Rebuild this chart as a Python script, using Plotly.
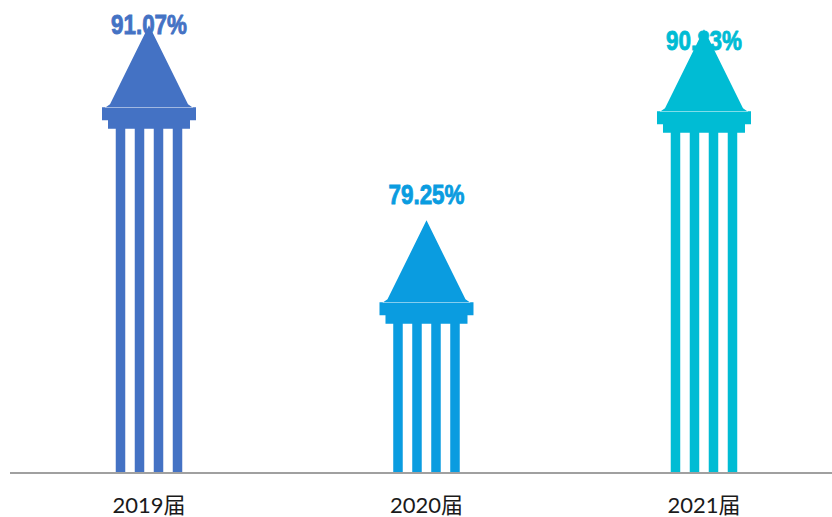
import plotly.graph_objects as go

# ---- data ----
categories = ["2019届", "2020届", "2021届"]
values = [91.07, 79.25, 90.83]
value_labels = ["91.07%", "79.25%", "90.83%"]

# ---- style ----
colors = ["#4472C4", "#0A9CE0", "#00BCD4"]
label_shift_px = [-2, 23, -14]      # label centre offset above the arrow tip (px)
label_on_top = [True, True, False]

W, H = 832, 517
ML, MR, MT, MB = 10, 0, 0, 45
X_RANGE = [-0.5009, 2.4613]
Y_RANGE = [64.0, 92.606]

plot_w = W - ML - MR
plot_h = H - MT - MB
px_x = (X_RANGE[1] - X_RANGE[0]) / plot_w   # data units per pixel
px_y = (Y_RANGE[1] - Y_RANGE[0]) / plot_h

# arrow geometry in pixels (relative to tip / centre)
TRI_H, TRI_HW, SHOULDER_HW, SHOULDER_H = 82, 39, 44, 3
CAP_H, CAP_HW = 13, 47
BAND_H, BAND_HW = 8, 41
STRIPE_W = 9.5
STRIPE_C = [-28.5, -9.5, 9.5, 28.5]


def arrow_path(cx, v):
    xs, ys = [], []

    def rect(x0, x1, y0, y1):
        xs.extend([x0, x1, x1, x0, x0, None])
        ys.extend([y0, y0, y1, y1, y0, None])

    tip = v
    cap_top = tip - TRI_H * px_y
    cap_bot = cap_top - CAP_H * px_y
    band_bot = cap_bot - BAND_H * px_y
    # triangle with slightly flared shoulders
    xs.extend([cx - SHOULDER_HW * px_x, cx - TRI_HW * px_x, cx,
               cx + TRI_HW * px_x, cx + SHOULDER_HW * px_x, cx - SHOULDER_HW * px_x, None])
    ys.extend([cap_top - 0.5 * px_y, cap_top + SHOULDER_H * px_y, tip,
               cap_top + SHOULDER_H * px_y, cap_top - 0.5 * px_y, cap_top - 0.5 * px_y, None])
    rect(cx - CAP_HW * px_x, cx + CAP_HW * px_x, cap_bot, cap_top)
    rect(cx - BAND_HW * px_x, cx + BAND_HW * px_x, band_bot - 0.5 * px_y, cap_bot + 0.5 * px_y)
    for c in STRIPE_C:
        rect(cx + (c - STRIPE_W / 2) * px_x, cx + (c + STRIPE_W / 2) * px_x,
             Y_RANGE[0], band_bot)
    return xs, ys


fig = go.Figure()


def add_label(i):
    fig.add_trace(go.Scatter(
        x=[i], y=[values[i] + label_shift_px[i] * px_y],
        mode="text", text=[value_labels[i]], textposition="middle center",
        textfont=dict(family="Liberation Sans, Arial, sans-serif",
                      size=28, color=colors[i], weight="bold"),
        hoverinfo="skip", showlegend=False, cliponaxis=False))


for i, (cat, v) in enumerate(zip(categories, values)):
    if not label_on_top[i]:
        add_label(i)
    xs, ys = arrow_path(i, v)
    fig.add_trace(go.Scatter(
        x=xs, y=ys, mode="lines", fill="toself", fillcolor=colors[i],
        line=dict(width=0, color=colors[i]), hoverinfo="skip",
        showlegend=False, name=cat))
    if label_on_top[i]:
        add_label(i)

fig.update_layout(
    width=W, height=H,
    margin=dict(l=ML, r=MR, t=MT, b=MB),
    paper_bgcolor="white", plot_bgcolor="white",
    showlegend=False,
    xaxis=dict(
        range=X_RANGE, tickvals=list(range(len(categories))), ticktext=categories,
        showgrid=False, zeroline=False, showline=True, linecolor="#A0A0A0", linewidth=1.5,
        ticks="outside", ticklen=13, tickcolor="rgba(0,0,0,0)",
        tickfont=dict(family="Lato, Noto Sans CJK SC, sans-serif", size=22, color="#1a1a1a"),
        fixedrange=True,
    ),
    yaxis=dict(range=Y_RANGE, visible=False, fixedrange=True),
)

post = """
document.body.style.margin = '0px';
document.body.style.overflow = 'hidden';
var gd = document.getElementById('{plot_id}');
function squeeze() {
  gd.querySelectorAll('.textpoint text').forEach(function (t) {
    t.style.transformBox = 'fill-box';
    t.style.transformOrigin = 'center';
    t.style.transform = 'scaleX(0.8)';
    t.style.stroke = t.style.fill;
    t.style.strokeWidth = '0.9px';
  });
}
squeeze();
if (gd.on) { gd.on('plotly_afterplot', squeeze); }
"""

fig.write_html("out.html", post_script=post, config={"displayModeBar": False})
